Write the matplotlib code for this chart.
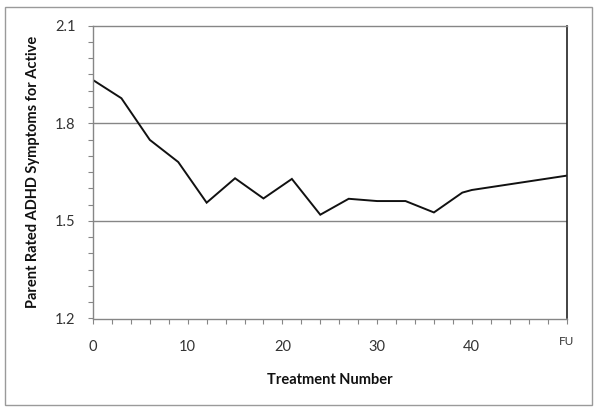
import matplotlib
matplotlib.use("Agg")
import matplotlib.pyplot as plt
from matplotlib.patches import Rectangle
from matplotlib.ticker import MultipleLocator, FixedLocator
import matplotlib.transforms as mtransforms

treatment = [0, 3, 6, 9, 12, 15, 18, 21, 24, 27, 30, 33, 36, 39, 40, 50]
symptoms = [1.933, 1.877, 1.749, 1.681, 1.556, 1.631, 1.569, 1.629, 1.519,
            1.568, 1.561, 1.561, 1.526, 1.587, 1.595, 1.639]
x_ticks = [0, 10, 20, 30, 40, 50]
x_labels = ["0", "10", "20", "30", "40", "FU"]
y_ticks = [1.2, 1.5, 1.8, 2.1]
y_labels = ["1.2", "1.5", "1.8", "2.1"]

plt.rcParams['font.family'] = ['Lato', 'DejaVu Sans']

W, H = 600, 415
fig = plt.figure(figsize=(6, 4.15), dpi=100)
ax = fig.add_axes([93 / W, 1 - 318.5 / H, (566.5 - 93) / W, (318.5 - 25.7) / H])

# outer chart border
fig.patches.append(Rectangle((5 / W, 1 - 405 / H), 587 / W, (405 - 7.5) / H,
                             transform=fig.transFigure, fill=False,
                             edgecolor="#9a9a9a", linewidth=1.0))

grid_c = "#868686"
ax.plot(treatment, symptoms, color="#111111", linewidth=1.4, solid_joinstyle="miter")

ax.set_xlim(0, 50)
ax.set_ylim(1.2, 2.1)
ax.xaxis.set_major_locator(FixedLocator(x_ticks))
ax.set_xticklabels(x_labels)
ax.xaxis.set_minor_locator(MultipleLocator(2))
ax.yaxis.set_major_locator(FixedLocator(y_ticks))
ax.set_yticklabels(y_labels)
ax.yaxis.set_minor_locator(MultipleLocator(0.05))

for yv in [1.5, 1.8]:
    ax.axhline(yv, color=grid_c, linewidth=1.0, zorder=0)

for s in ["left", "bottom", "top"]:
    ax.spines[s].set_color(grid_c)
    ax.spines[s].set_linewidth(1.0)
ax.spines["right"].set_color("#222222")
ax.spines["right"].set_linewidth(1.2)

ax.tick_params(axis="both", which="both", direction="out", length=3.5,
               color=grid_c, width=0.8, labelsize=10.5, labelcolor="#333333")
ax.tick_params(axis="x", which="major", pad=12)
ax.tick_params(axis="y", which="major", pad=9)

fu = ax.get_xticklabels()[-1]
fu.set_fontsize(8.5)

ax.set_xlabel("Treatment Number", fontsize=10.5, fontweight="bold", color="#111111", labelpad=14)
ax.set_ylabel("Parent Rated ADHD Symptoms for Active", fontsize=10.5, fontweight="bold",
              color="#111111", labelpad=11)

fig.canvas.draw()
fu.set_transform(fu.get_transform() + mtransforms.ScaledTranslation(0, 3 / 72, fig.dpi_scale_trans))

fig.savefig("out.png", dpi=100)
